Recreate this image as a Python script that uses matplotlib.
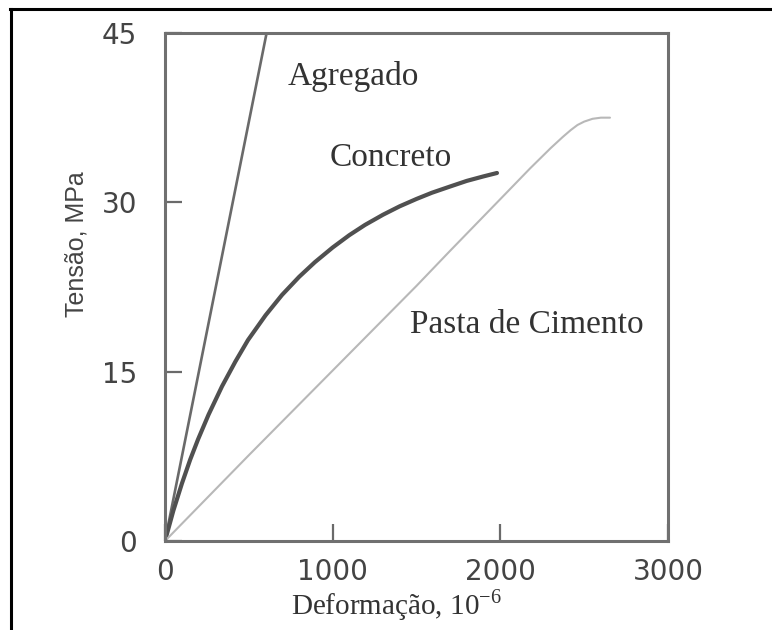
import matplotlib
matplotlib.use("Agg")
import matplotlib.pyplot as plt
from matplotlib.lines import Line2D

# Curvas tensão-deformação (deformação em 10^-6, tensão em MPa)
agregado_def = [0, 606]
agregado_ten = [0, 45]

concreto_def = [0, 50, 101, 150, 197, 260, 340, 420, 495, 600, 698, 800, 894,
                1000, 1100, 1193, 1300, 1400, 1500, 1592, 1700, 1800, 1900, 1980]
concreto_ten = [0, 2.7, 5.1, 7.2, 9.0, 11.2, 13.7, 15.9, 17.8, 20.0, 21.8, 23.4, 24.7,
                26.0, 27.1, 28.0, 28.9, 29.65, 30.3, 30.85, 31.4, 31.9, 32.3, 32.6]

pasta_def = [0, 500, 1000, 1500, 1700, 2027, 2177, 2300, 2373, 2420, 2460, 2500,
             2550, 2600, 2654]
pasta_ten = [0, 7.6, 15.1, 22.6, 25.7, 30.7, 33.0, 34.8, 35.8, 36.4, 36.85, 37.15,
             37.4, 37.5, 37.5]

x_ticks = [0, 1000, 2000, 3000]
y_ticks = [0, 15, 30, 45]

plt.rcParams["mathtext.fontset"] = "custom"
plt.rcParams["mathtext.rm"] = "Liberation Serif"

fig = plt.figure(figsize=(7.72, 6.30), dpi=100)
ax = fig.add_axes([165 / 772, 89 / 630, 503 / 772, 508 / 630])

ax.plot(agregado_def, agregado_ten, color="#6a6a6a", lw=1.9, solid_capstyle="butt")
ax.plot(concreto_def, concreto_ten, color="#505050", lw=3.0,
        solid_capstyle="round", solid_joinstyle="round")
ax.plot(pasta_def, pasta_ten, color="#b8b8b8", lw=1.5,
        solid_capstyle="round", solid_joinstyle="round")

ax.set_xlim(0, 3000)
ax.set_ylim(0, 45)
ax.set_xticks(x_ticks)
ax.set_yticks(y_ticks)
ax.tick_params(direction="in", length=12, width=1.6, color="#6a6a6a",
               labelsize=20, labelcolor="#444444")
ax.tick_params(axis="y", pad=20)
ax.tick_params(axis="x", pad=12)
for s in ax.spines.values():
    s.set_color("#707070")
    s.set_linewidth(2.2)

serif = "Liberation Serif"
ax.text(733, 40.4, "Agregado", family=serif, fontsize=24, color="#333333", va="baseline")
ax.text(984, 33.2, "Concreto", family=serif, fontsize=24, color="#333333", va="baseline")
ax.text(1461, 18.4, "Pasta de Cimento", family=serif, fontsize=24, color="#333333", va="baseline")

ax.set_ylabel("Tensão, MPa", fontsize=18, color="#444444", family="Liberation Sans")
ax.yaxis.set_label_coords(-0.153, 0.585)
ax.set_xlabel("Deformação, 10$^{-6}$", fontsize=21, color="#333333", family=serif)
ax.xaxis.set_label_coords(0.46, -0.09)

# moldura externa (topo e lado esquerdo)
fig.add_artist(Line2D([10 / 772, 1], [1 - 9 / 630, 1 - 9 / 630], color="black", lw=2.2))
fig.add_artist(Line2D([11 / 772, 11 / 772], [0, 1 - 9 / 630], color="black", lw=2.2))

fig.savefig("out.png", dpi=100)
